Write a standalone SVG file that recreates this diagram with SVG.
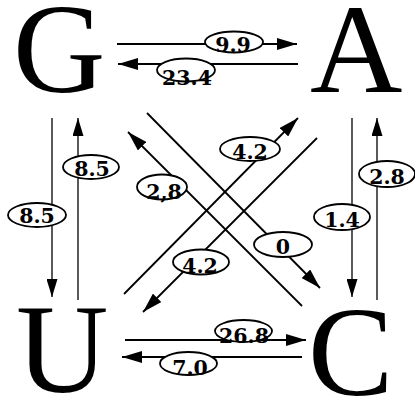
<svg xmlns="http://www.w3.org/2000/svg" width="415" height="398" viewBox="0 0 415 398">
<style>
.node{font-family:"Liberation Serif","Times New Roman",serif;font-size:128px;fill:#000}
.ln{stroke:#000;stroke-width:1.8;fill:none}
.vl{stroke:#000;stroke-width:1.3;fill:none}
.lb ellipse{fill:#fff;stroke:#000;stroke-width:1.8}
.lb text{font-family:"DejaVu Serif","Liberation Serif",serif;font-weight:bold;font-size:20.5px;text-anchor:middle;fill:#000}
</style>
<defs>
<marker id="ah" viewBox="0 0 20 12" refX="20" refY="6" markerWidth="20" markerHeight="12" markerUnits="userSpaceOnUse" orient="auto">
<path d="M0,0 L20,6 L0,12 z" fill="#000"/>
</marker>
<marker id="ahs" viewBox="0 0 18 11" refX="18" refY="5.5" markerWidth="18" markerHeight="11" markerUnits="userSpaceOnUse" orient="auto">
<path d="M0,0 L18,5.5 L0,11 z" fill="#000"/>
</marker>
</defs>
<rect width="415" height="398" fill="#fff"/>
<g id="connectors">
<g id="e-GA"><line class="ln" x1="117" y1="44" x2="297" y2="44" marker-end="url(#ah)"/><g class="lb"><ellipse cx="234" cy="42" rx="29" ry="10.5"/><text x="233" y="51.5">9.9</text></g></g>
<g id="e-AG"><line class="ln" x1="298" y1="64" x2="118" y2="64" marker-end="url(#ah)"/><g class="lb"><ellipse cx="186" cy="70" rx="29" ry="11.5"/><text x="187" y="85">23.4</text></g></g>
<g id="e-GU"><line class="vl" x1="52" y1="118" x2="52" y2="297" marker-end="url(#ahs)"/><g class="lb"><ellipse cx="37" cy="215" rx="29" ry="12"/><text x="37" y="223">8.5</text></g></g>
<g id="e-UG"><line class="vl" x1="78" y1="300" x2="78" y2="118" marker-end="url(#ahs)"/><g class="lb"><ellipse cx="91" cy="167" rx="28" ry="12"/><text x="92" y="176">8.5</text></g></g>
<g id="e-AC"><line class="vl" x1="352" y1="118" x2="352" y2="297" marker-end="url(#ahs)"/><g class="lb"><ellipse cx="342" cy="217" rx="28" ry="13"/><text x="342" y="227">1.4</text></g></g>
<g id="e-CA"><line class="vl" x1="377" y1="300" x2="377" y2="118" marker-end="url(#ahs)"/><g class="lb"><ellipse cx="387" cy="174" rx="28" ry="13"/><text x="387" y="184">2.8</text></g></g>
<g id="e-GC"><line class="ln" x1="147" y1="113" x2="320" y2="288" marker-end="url(#ah)"/><g class="lb"><ellipse cx="283" cy="244.5" rx="29" ry="12.5"/><text x="283" y="253.5">0</text></g></g>
<g id="e-CG"><line class="ln" x1="302" y1="306" x2="128" y2="132" marker-end="url(#ah)"/><g class="lb"><ellipse cx="162" cy="187" rx="25" ry="12.5"/><text x="164" y="199">2,8</text></g></g>
<g id="e-UA"><line class="ln" x1="124" y1="294" x2="298" y2="118" marker-end="url(#ah)"/><g class="lb"><ellipse cx="250" cy="149" rx="30" ry="12"/><text x="250" y="159">4.2</text></g></g>
<g id="e-AU"><line class="ln" x1="317" y1="138" x2="143" y2="312" marker-end="url(#ah)"/><g class="lb"><ellipse cx="201" cy="262" rx="28" ry="12.5"/><text x="200" y="273">4.2</text></g></g>
<g id="e-UC"><line class="ln" x1="125" y1="340" x2="306" y2="340" marker-end="url(#ah)"/><g class="lb"><ellipse cx="243.5" cy="331" rx="28.5" ry="11"/><text x="244" y="343">26.8</text></g></g>
<g id="e-CU"><line class="ln" x1="302" y1="357" x2="122" y2="357" marker-end="url(#ah)"/><g class="lb"><ellipse cx="188.5" cy="363.5" rx="28.5" ry="11.5"/><text x="190" y="375">7.0</text></g></g>
</g>
<g id="node-G"><text class="node" x="13" y="92">G</text></g>
<g id="node-A"><text class="node" x="310" y="92">A</text></g>
<g id="node-U"><text class="node" x="16" y="392">U</text></g>
<g id="node-C"><text class="node" x="308" y="395">C</text></g>
</svg>
